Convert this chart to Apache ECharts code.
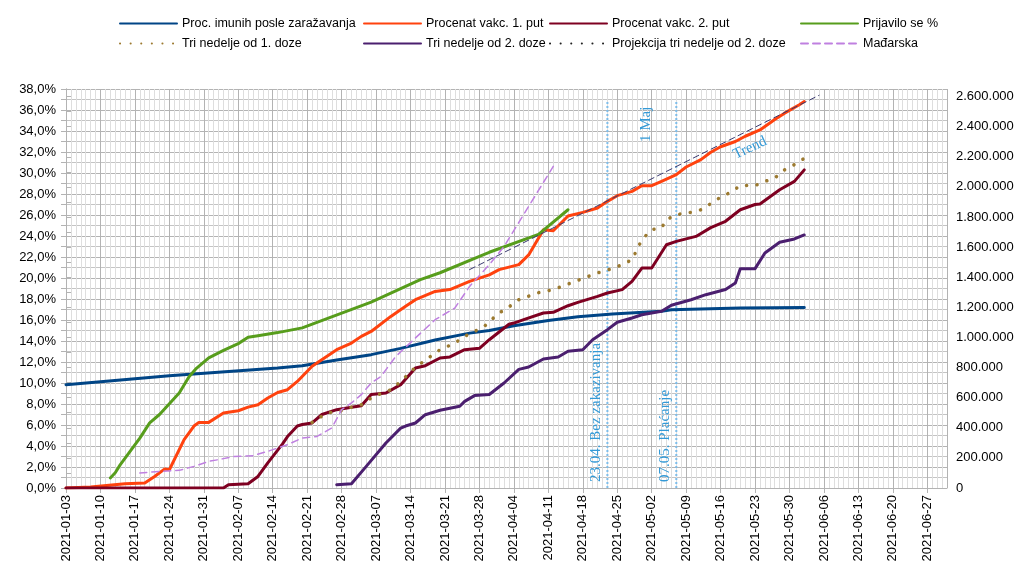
<!DOCTYPE html>
<html>
<head>
<meta charset="utf-8">
<script src="https://cdn.jsdelivr.net/npm/echarts@6/dist/echarts.min.js"></script>
<style>
  html, body { margin: 0; padding: 0; background: #fff; }
  #chart { width: 1030px; height: 579px; }
</style>
</head>
<body>
<div id="chart"></div>
<script>
// x = broj dana od 2021-01-03
const tickLabels = ['2021-01-03', '2021-01-10', '2021-01-17', '2021-01-24', '2021-01-31', '2021-02-07',
  '2021-02-14', '2021-02-21', '2021-02-28', '2021-03-07', '2021-03-14', '2021-03-21', '2021-03-28',
  '2021-04-04', '2021-04-11', '2021-04-18', '2021-04-25', '2021-05-02', '2021-05-09', '2021-05-16',
  '2021-05-23', '2021-05-30', '2021-06-06', '2021-06-13', '2021-06-20', '2021-06-27'];

const imuni = [[0, 9.84], [21, 10.7], [43, 11.43], [48, 11.65], [55, 12.2], [62, 12.7], [68, 13.3],
  [75, 14.1], [82, 14.75], [86, 15.0], [91, 15.45], [98, 15.95], [104, 16.3], [111, 16.57],
  [121, 16.83], [123, 16.97], [137, 17.14], [150, 17.2]];

const vakc1 = [[0, 0], [5, 0.1], [12, 0.4], [16, 0.48], [18, 1.1], [20, 1.8], [21, 1.74], [24, 4.6],
  [26, 5.9], [27, 6.25], [29, 6.25], [32, 7.14], [35, 7.36], [37, 7.7], [39, 7.93], [41, 8.57],
  [43, 9.1], [45, 9.36], [47, 10.15], [50, 11.6], [55, 13.17], [58, 13.8], [60, 14.44], [62, 14.91],
  [66, 16.34], [69, 17.3], [71, 17.93], [75, 18.72], [78, 18.9], [82, 19.68], [86, 20.3], [88, 20.8],
  [92, 21.27], [94, 22.2], [97, 24.6], [99, 24.5], [102, 25.9], [105, 26.25], [108, 26.67],
  [110, 27.3], [112, 27.84], [115, 28.25], [117, 28.79], [119, 28.79], [121, 29.2], [124, 29.84],
  [126, 30.57], [129, 31.27], [131, 31.97], [133, 32.5], [136, 33.0], [138, 33.5], [141, 34.1],
  [144, 35.1], [146, 35.7], [149, 36.5], [150, 36.8]];

const vakc2 = [[0, 0], [32, 0], [33, 0.3], [37, 0.4], [39, 1.1], [41, 2.4], [44, 4.2], [45, 4.9],
  [47, 5.9], [48, 6.05], [50, 6.2], [52, 7.0], [55, 7.46], [58, 7.7], [60, 7.84], [62, 8.9],
  [65, 9.05], [68, 9.84], [71, 11.43], [73, 11.65], [76, 12.38], [78, 12.48], [81, 13.17],
  [84, 13.3], [86, 14.12], [90, 15.6], [91, 15.71], [93, 16.03], [97, 16.67], [99, 16.73],
  [102, 17.36], [104, 17.68], [108, 18.25], [110, 18.57], [113, 18.89], [115, 19.68], [117, 20.95],
  [119, 20.95], [122, 23.17], [124, 23.49], [128, 23.96], [131, 24.8], [134, 25.4], [137, 26.5],
  [140, 27.0], [141, 27.05], [145, 28.4], [148, 29.2], [150, 30.3]];

const prijavilo = [[9, 0.95], [10, 1.45], [11, 2.2], [15, 4.75], [17, 6.2], [19, 7.0], [23, 9.05],
  [25, 10.6], [26.5, 11.4], [29, 12.4], [32, 13.1], [35, 13.75], [37, 14.35], [39, 14.5], [43, 14.8],
  [48, 15.25], [62, 17.7], [72, 19.85], [76, 20.5], [84, 22.05], [86, 22.45], [96, 24.15], [102, 26.5]];

const triNed1 = [[50, 6.25], [53, 7.14], [56, 7.36], [58, 7.7], [60, 7.93], [62, 8.57], [64, 9.0],
  [66, 9.36], [68, 10.15], [71, 11.5], [76, 13.17], [79, 13.8], [81, 14.44], [83, 14.91], [85, 15.4],
  [88, 16.7], [89, 16.9], [92, 17.93], [96, 18.6], [99, 18.9], [103, 19.6], [108, 20.48],
  [111, 20.9], [113, 21.27], [115, 21.74], [117, 23.65], [119, 24.6], [121, 24.77], [122, 25.55],
  [124, 26.03], [127, 26.25], [129, 26.5], [131, 27.08], [133, 27.7], [135, 28.15], [137, 28.8],
  [140, 28.8], [142, 29.2], [144, 29.52], [146, 30.3], [148, 30.8], [150, 31.4]];

const triNed2 = [[55, 0.31], [58, 0.41], [61, 2.06], [65, 4.29], [68, 5.7], [69, 5.9], [71, 6.19],
  [73, 6.98], [76, 7.4], [80, 7.78], [81, 8.25], [83, 8.8], [86, 8.9], [89, 10.0], [92, 11.3],
  [94, 11.52], [97, 12.29], [100, 12.48], [102, 13.02], [105, 13.17], [107, 14.12], [110, 15.08],
  [112, 15.78], [115, 16.19], [117, 16.5], [121, 16.83], [123, 17.4], [127, 17.93], [130, 18.41],
  [134, 18.9], [136, 19.52], [137, 20.89], [140, 20.89], [142, 22.38], [145, 23.4], [148, 23.72],
  [150, 24.1]];

const projekcija = [];

const madjarska = [[15, 1.43], [19, 1.58], [23, 1.68], [26, 2.06], [29, 2.54], [31, 2.7], [34, 3.0],
  [38, 3.08], [41, 3.49], [45, 4.12], [48, 4.76], [51, 4.91], [54, 5.71], [56, 7.46], [58, 8.1],
  [60, 8.89], [62, 10.0], [64, 10.63], [67, 12.53], [71, 14.29], [75, 16.03], [79, 17.14],
  [82, 19.2], [86, 21.27], [89, 23.0], [99, 30.63]];

const trend = [[82, 20.8], [153, 37.4]];

const markerDays = [110, 124];
const markerTop = 36.8;

const FONT = 'Liberation Sans';
const GRID_C = '#b3b3b3';

const names = ['Proc. imunih posle zaražavanja', 'Procenat vakc. 1. put', 'Procenat vakc. 2. put',
  'Prijavilo se %', 'Tri nedelje od 1. doze', 'Tri nedelje od 2. doze',
  'Projekcija tri nedelje od 2. doze', 'Mađarska'];
const legendLeft = [119, 363, 549, 800];

function mainLine(name, data, color, width, type) {
  return {
    name: name, type: 'line', data: data, xAxisIndex: 0, yAxisIndex: 0,
    symbol: 'none', showSymbol: false, animation: false,
    lineStyle: { color: color, width: width, type: type || 'solid', cap: 'round', join: 'round' },
    itemStyle: { color: color }
  };
}

const series = [
  mainLine(names[0], imuni, '#004586', 3),
  mainLine(names[1], vakc1, '#ff420e', 3),
  mainLine(names[2], vakc2, '#7e0021', 3),
  mainLine(names[3], prijavilo, '#579d1c', 3),
  mainLine(names[4], triNed1, '#9c7a30', 3.5, [0.1, 10.5]),
  mainLine(names[5], triNed2, '#4b1f6f', 3),
  mainLine(names[6], projekcija, '#222222', 3.5, [0.1, 10.5]),
  mainLine(names[7], madjarska, '#bf80e0', 1.5, [7, 5]),
  mainLine('Trend', trend, '#3a3a70', 1, [6, 4])
];
markerDays.forEach(function (d) {
  series.push({
    type: 'line', data: [[d, 0], [d, markerTop]], symbol: 'none', animation: false,
    lineStyle: { color: '#7dbdea', width: 2, type: [2, 2] }, silent: true, z: 1
  });
});

const legends = names.map(function (n, i) {
  return {
    data: [n], left: legendLeft[i % 4], top: i < 4 ? 17 : 37, padding: 0,
    itemWidth: 57, itemHeight: 14, selectedMode: false,
    itemStyle: { opacity: 0 },
    textStyle: { fontFamily: FONT, fontSize: 12.5, color: '#000' }
  };
});

const annoStyle = { fontFamily: 'Liberation Serif', fontSize: 15, fill: '#3399d6' };

const option = {
  backgroundColor: '#fff',
  animation: false,
  legend: legends,
  grid: { left: 66, right: 83, top: 89, bottom: 91 },
  xAxis: [
    {
      type: 'value', min: 0, max: 179, interval: 7, z: 2,
      axisLine: { lineStyle: { color: GRID_C } },
      axisTick: { lineStyle: { color: GRID_C }, length: 5 },
      splitLine: { show: true, lineStyle: { color: GRID_C } },
      axisLabel: {
        rotate: 90, margin: 7, color: '#000', fontFamily: FONT, fontSize: 13,
        showMaxLabel: false,
        formatter: function (v) { return tickLabels[Math.round(v / 7)] || ''; }
      }
    },
    {
      type: 'value', min: 0, max: 179, interval: 1, position: 'bottom', z: 0,
      axisLine: { show: false }, axisTick: { show: false }, axisLabel: { show: false },
      splitLine: { show: true, lineStyle: { color: '#dedede' } }
    }
  ],
  yAxis: [
    {
      type: 'value', min: 0, max: 38, interval: 2,
      axisLine: { show: true, lineStyle: { color: GRID_C } },
      axisTick: { show: true, length: 5, lineStyle: { color: GRID_C } },
      minorTick: { show: true, splitNumber: 2, length: 5, lineStyle: { color: GRID_C } },
      splitLine: { lineStyle: { color: GRID_C } },
      minorSplitLine: { show: true, lineStyle: { color: '#c4c4c4' } },
      axisLabel: {
        margin: 10, color: '#000', fontFamily: FONT, fontSize: 13,
        formatter: function (v) { return v.toFixed(1).replace('.', ',') + '%'; }
      }
    },
    {
      type: 'value', min: 0, max: 2650000, interval: 200000, position: 'right',
      axisLine: { show: true, lineStyle: { color: GRID_C } },
      axisTick: { show: true, length: 5, lineStyle: { color: GRID_C } },
      minorTick: { show: true, splitNumber: 2, length: 5, lineStyle: { color: GRID_C } },
      splitLine: { show: false },
      axisLabel: {
        margin: 9, color: '#000', fontFamily: FONT, fontSize: 13, showMaxLabel: false,
        formatter: function (v) { return String(v).replace(/\B(?=(\d{3})+(?!\d))/g, '.'); }
      }
    }
  ],
  graphic: [
    { type: 'text', x: 596, y: 482, rotation: Math.PI / 2, z: 20,
      style: Object.assign({ text: '23.04. Bez zakazivanja', textAlign: 'left', textVerticalAlign: 'middle' }, annoStyle) },
    { type: 'text', x: 665, y: 482, rotation: Math.PI / 2, z: 20,
      style: Object.assign({ text: '07.05. Plaćanje', textAlign: 'left', textVerticalAlign: 'middle' }, annoStyle) },
    { type: 'text', x: 646, y: 142, rotation: Math.PI / 2, z: 20,
      style: Object.assign({ text: '1 Maj', textAlign: 'left', textVerticalAlign: 'middle' }, annoStyle) },
    { type: 'text', x: 750, y: 148, rotation: 0.44, z: 20,
      style: Object.assign({ text: 'Trend', textAlign: 'center', textVerticalAlign: 'middle' }, annoStyle) }
  ],
  series: series
};

const chart = echarts.init(document.getElementById('chart'));
chart.setOption(option);
</script>
</body>
</html>
